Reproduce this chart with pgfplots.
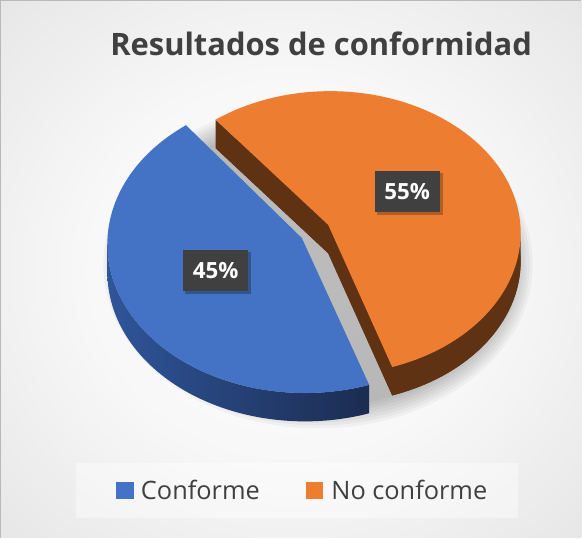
\documentclass[border=0pt]{standalone}
\usepackage{pgfplots}
\pgfplotsset{compat=1.18}
\usepackage{pgfplotstable}
\usepackage{fontspec}
\setmainfont{Open Sans}
\definecolor{cblue}{HTML}{4472C4}
\definecolor{corange}{HTML}{ED7D31}
\definecolor{cbrown}{HTML}{5E3212}
\definecolor{navyA}{HTML}{2F559A}
\definecolor{navyB}{HTML}{1B2C50}
\definecolor{lblgray}{HTML}{404040}
\definecolor{txtgray}{HTML}{404040}
\pgfdeclareradialshading{bgshade}{\pgfpoint{0bp}{0bp}}{color(0bp)=(white); color(18bp)=(white!97!black); color(50bp)=(white!85!black); color(71bp)=(white!76!black); color(100bp)=(white!76!black)}
\pgfplotstableread{
label value
Conforme 45
NoConforme 55
}\pietable
\pgfplotstablegetelem{0}{value}\of\pietable \pgfmathsetmacro\vA{\pgfplotsretval}
\pgfplotstablegetelem{1}{value}\of\pietable \pgfmathsetmacro\vB{\pgfplotsretval}
\pgfmathsetmacro\tot{\vA+\vB}
% slice angles (parametric, counter-clockwise)
\pgfmathsetmacro\sA{127}
\pgfmathsetmacro\eA{\sA+360*\vA/\tot}
\pgfmathsetmacro\oS{\eA-360}
% blue slice geometry (pixel units)
\def\bcx{309}\def\bcy{248}\def\brx{195}\def\bry{147}
\pgfmathsetmacro\bsx{\bcx+\brx*cos(\sA)}\pgfmathsetmacro\bsy{\bcy-\bry*sin(\sA)}
\pgfmathsetmacro\blx{\bcx+\brx*cos(180)}\pgfmathsetmacro\bly{\bcy-\bry*sin(180)}
% orange slice geometry
\def\ocx{334}\def\ocy{237}\def\orx{188}\def\ory{140}
\pgfmathsetmacro\osx{\ocx+\orx*cos(\oS)}\pgfmathsetmacro\osy{\ocy-\ory*sin(\oS)}
\pgfmathsetmacro\oex{\ocx+\orx*cos(\sA)}\pgfmathsetmacro\oey{\ocy-\ory*sin(\sA)}
\def\dep{28pt}
\begin{document}%
\begin{tikzpicture}
\begin{axis}[scale only axis, width=582pt, height=538pt,
  xmin=0, xmax=582, ymin=0, ymax=538, y dir=reverse,
  hide axis, ticks=none, clip=false]
% background panel
\shade[shading=bgshade] (axis cs:8,7) rectangle (axis cs:582,538);
\draw[line width=1.2pt, gray!55] (axis cs:8.6,538) -- (axis cs:8.6,7.6) -- (axis cs:582,7.6);
% soft shadow under pie
\fill[black, opacity=0.035] (axis cs:322,268) ellipse [x radius=212pt, y radius=162pt];
\fill[black, opacity=0.035] (axis cs:322,268) ellipse [x radius=209pt, y radius=159pt];
\fill[black, opacity=0.035] (axis cs:322,268) ellipse [x radius=206pt, y radius=156pt];
\fill[black, opacity=0.035] (axis cs:322,268) ellipse [x radius=203pt, y radius=153pt];
\fill[black, opacity=0.035] (axis cs:322,268) ellipse [x radius=200pt, y radius=150pt];
\fill[black, opacity=0.035] (axis cs:322,268) ellipse [x radius=197pt, y radius=147pt];
\fill[black, opacity=0.035] (axis cs:322,268) ellipse [x radius=194pt, y radius=144pt];
\fill[black, opacity=0.035] (axis cs:322,268) ellipse [x radius=191pt, y radius=141pt];
% ---- orange slice (No conforme) ----
\fill[cbrown, yshift=-\dep] (axis cs:332,229) -- (axis cs:\osx,\osy)
   arc[start angle=\oS, end angle=\sA, x radius=\orx pt, y radius=\ory pt] -- cycle;
\fill[cbrown] (axis cs:332,229) -- (axis cs:\oex,\oey) -- ++(0pt,-\dep) -- ([yshift=-\dep]axis cs:332,229) -- cycle;
\fill[cbrown] (axis cs:332,229) -- (axis cs:\osx,\osy) -- ++(0pt,-\dep) -- ([yshift=-\dep]axis cs:332,229) -- cycle;
\fill[cbrown] (axis cs:\osx,\osy) arc[start angle=\oS, end angle=0, x radius=\orx pt, y radius=\ory pt]
   -- ++(0pt,-\dep) arc[start angle=0, end angle=\oS, x radius=\orx pt, y radius=\ory pt] -- cycle;
\fill[corange] (axis cs:332,229) -- (axis cs:\osx,\osy)
   arc[start angle=\oS, end angle=\sA, x radius=\orx pt, y radius=\ory pt] -- cycle;
% ---- blue slice (Conforme) ----
\shade[left color=navyA, right color=navyB] (axis cs:\blx,\bly)
   arc[start angle=180, end angle=\eA, x radius=\brx pt, y radius=\bry pt]
   -- ++(0pt,-\dep) arc[start angle=\eA, end angle=180, x radius=\brx pt, y radius=\bry pt] -- cycle;
\fill[cblue] (axis cs:306,242) -- (axis cs:\bsx,\bsy)
   arc[start angle=\sA, end angle=\eA, x radius=\brx pt, y radius=\bry pt] -- cycle;
% data labels
\fill[black, opacity=0.25] (axis cs:191,256) rectangle (axis cs:256,297);
\node[fill=lblgray, text=white, minimum width=64pt, minimum height=40pt, inner sep=0pt,
  font=\bfseries\fontsize{22}{26}\selectfont] at (axis cs:221,274) {45\%};
\fill[black, opacity=0.25] (axis cs:380,178) rectangle (axis cs:445,219);
\node[fill=lblgray, text=white, minimum width=64pt, minimum height=40pt, inner sep=0pt,
  font=\bfseries\fontsize{22}{26}\selectfont] at (axis cs:410,196) {55\%};
% title
\node[text=txtgray, font=\bfseries\fontsize{30.5}{36}\selectfont] at (axis cs:325,50) {Resultados de conformidad};
% legend
\fill[white, opacity=0.4] (axis cs:83,464) rectangle (axis cs:519,518);
\fill[cblue] (axis cs:123,483) rectangle (axis cs:140,500);
\node[anchor=base west, inner sep=0pt, text=txtgray, font=\fontsize{25}{30}\selectfont] at (axis cs:147,500) {Conforme};
\fill[corange] (axis cs:310,483) rectangle (axis cs:327,500);
\node[anchor=base west, inner sep=0pt, text=txtgray, font=\fontsize{25}{30}\selectfont] at (axis cs:335,500) {No conforme};
\end{axis}
\end{tikzpicture}%
\end{document}
